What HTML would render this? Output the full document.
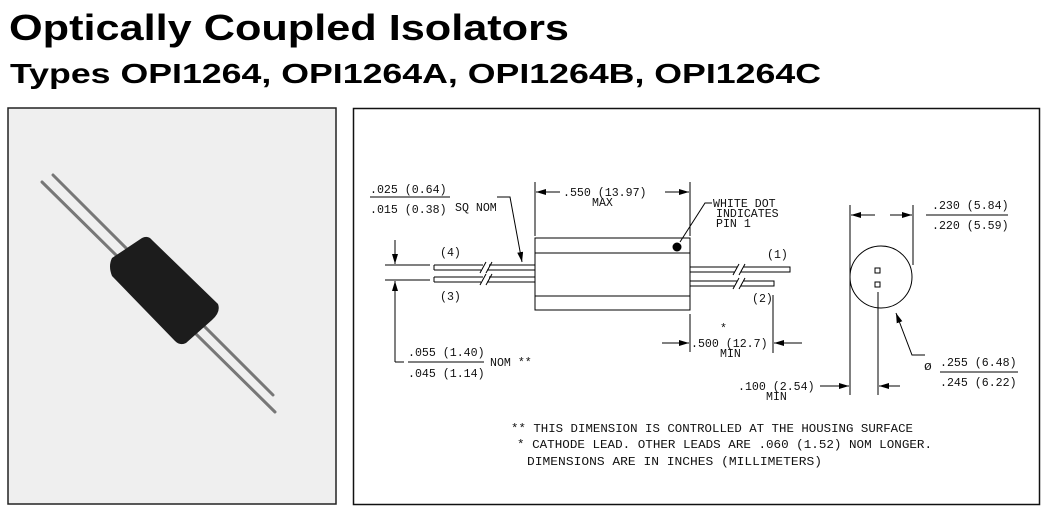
<!DOCTYPE html>
<html><head><meta charset="utf-8"><style>
html,body{margin:0;padding:0;background:#fff;width:1047px;height:516px;overflow:hidden}
svg{display:block}
.t{font-family:"Liberation Sans",sans-serif;font-weight:bold;fill:#000}
.d{font-family:"Liberation Mono",monospace;font-size:11.6px;fill:#111}
</style></head><body>
<svg width="1047" height="516" viewBox="0 0 1047 516">
<defs>
<marker id="a" viewBox="0 0 10 6" refX="10" refY="3" markerWidth="10" markerHeight="6" orient="auto" markerUnits="userSpaceOnUse"><path d="M0,0L10,3L0,6z" fill="#000"/></marker>
</defs>
<text class="t" x="9" y="40" font-size="36" textLength="560" lengthAdjust="spacingAndGlyphs">Optically Coupled Isolators</text>
<text class="t" x="10" y="83" font-size="28" textLength="811" lengthAdjust="spacingAndGlyphs">Types OPI1264, OPI1264A, OPI1264B, OPI1264C</text>

<!-- photo -->
<rect x="8" y="108" width="328" height="396" fill="#efefef"/>
<rect x="8" y="108" width="328" height="396" fill="none" stroke="#222" stroke-width="1.5"/>
<g stroke="#777" stroke-width="3" stroke-linecap="round">
<line x1="42" y1="182" x2="275" y2="412"/>
<line x1="53" y1="175" x2="273" y2="395"/>
</g>
<path d="M112,258 L142,238 Q148,235 152,240 L218,304 Q221,312 212,320 L186,343 Q180,346 175,341 L112,276 Q108,266 112,258 Z" fill="#1c1c1c"/>

<!-- drawing box -->
<rect x="353.5" y="108.5" width="686" height="396" fill="#fff" stroke="#111" stroke-width="1.5"/>
<g stroke="#000" stroke-width="1" fill="none">
<rect x="535" y="238" width="155" height="72"/>
<line x1="535" y1="253" x2="690" y2="253"/>
<line x1="535" y1="296" x2="690" y2="296"/>
<path d="M434,265 H483 M489,265 H535 M434,270 H481 M487,270 H535 M434,265 V270"/>
<path d="M434,277 H483 M489,277 H535 M434,282 H481 M487,282 H535 M434,277 V282"/>
<path d="M480,273 L486,262 M486,273 L492,262 M480,285 L486,274 M486,285 L492,274"/>
<path d="M690,267 H737 M743,267 H790 V272 H741 M735,272 H690"/>
<path d="M690,281 H737 M743,281 H774 V286 H741 M735,286 H690"/>
<path d="M733,275 L739,264 M739,275 L745,264 M733,289 L739,278 M739,289 L745,278"/>
<line x1="535" y1="182" x2="535" y2="236"/>
<line x1="690" y1="182" x2="690" y2="236"/>
<line x1="560" y1="192" x2="536" y2="192" marker-end="url(#a)"/>
<line x1="665" y1="192" x2="689" y2="192" marker-end="url(#a)"/>
<path d="M712,203 H705 L680,242"/>
<path d="M497,197 H510 L522,262" marker-end="url(#a)"/>
<line x1="370" y1="197" x2="450" y2="197"/>
<line x1="385" y1="265" x2="430" y2="265"/>
<line x1="385" y1="280" x2="430" y2="280"/>
<line x1="395" y1="240" x2="395" y2="264" marker-end="url(#a)"/>
<path d="M395,362 H404 M395,362 V281" marker-end="url(#a)"/>
<line x1="408" y1="362" x2="484" y2="362"/>
<line x1="690" y1="314" x2="690" y2="352"/>
<line x1="773" y1="295" x2="773" y2="353"/>
<line x1="662" y1="343" x2="689" y2="343" marker-end="url(#a)"/>
<line x1="802" y1="343" x2="774" y2="343" marker-end="url(#a)"/>
<circle cx="881" cy="277" r="31"/>
<rect x="875" y="268" width="5" height="5"/>
<rect x="875" y="282" width="5" height="5"/>
<line x1="850" y1="205" x2="850" y2="395"/>
<line x1="913" y1="205" x2="913" y2="265"/>
<line x1="878" y1="292" x2="878" y2="395"/>
<line x1="875" y1="215" x2="851" y2="215" marker-end="url(#a)"/>
<line x1="890" y1="215" x2="912" y2="215" marker-end="url(#a)"/>
<line x1="926" y1="215" x2="1008" y2="215"/>
<path d="M925,355 H912 L896,313" marker-end="url(#a)"/>
<line x1="940" y1="372" x2="1018" y2="372"/>
<line x1="820" y1="386" x2="849" y2="386" marker-end="url(#a)"/>
<line x1="900" y1="386" x2="879" y2="386" marker-end="url(#a)"/>
</g>
<circle cx="677" cy="247" r="4.5" fill="#000"/>
<g class="d">
<text x="563" y="196">.550 (13.97)</text>
<text x="592" y="206">MAX</text>
<text x="713" y="207">WHITE DOT</text>
<text x="716" y="217">INDICATES</text>
<text x="716" y="227">PIN 1</text>
<text x="370" y="193">.025 (0.64)</text>
<text x="370" y="213">.015 (0.38)</text>
<text x="455" y="211">SQ NOM</text>
<text x="440" y="256">(4)</text>
<text x="440" y="300">(3)</text>
<text x="767" y="258">(1)</text>
<text x="752" y="302">(2)</text>
<text x="408" y="356">.055 (1.40)</text>
<text x="408" y="377">.045 (1.14)</text>
<text x="490" y="366">NOM **</text>
<text x="720" y="332">*</text>
<text x="691" y="347">.500 (12.7)</text>
<text x="720" y="357">MIN</text>
<text x="738" y="390">.100 (2.54)</text>
<text x="766" y="400">MIN</text>
<text x="932" y="209">.230 (5.84)</text>
<text x="932" y="229">.220 (5.59)</text>
<text x="924" y="370" font-size="13">ø</text>
<text x="940" y="366">.255 (6.48)</text>
<text x="940" y="386">.245 (6.22)</text>
<text x="511" y="432" textLength="402" lengthAdjust="spacingAndGlyphs">** THIS DIMENSION IS CONTROLLED AT THE HOUSING SURFACE</text>
<text x="517" y="448" textLength="415" lengthAdjust="spacingAndGlyphs">* CATHODE LEAD.  OTHER LEADS ARE .060 (1.52) NOM LONGER.</text>
<text x="527" y="465" textLength="295" lengthAdjust="spacingAndGlyphs">DIMENSIONS ARE IN INCHES (MILLIMETERS)</text>
</g>
</svg>
</body></html>
